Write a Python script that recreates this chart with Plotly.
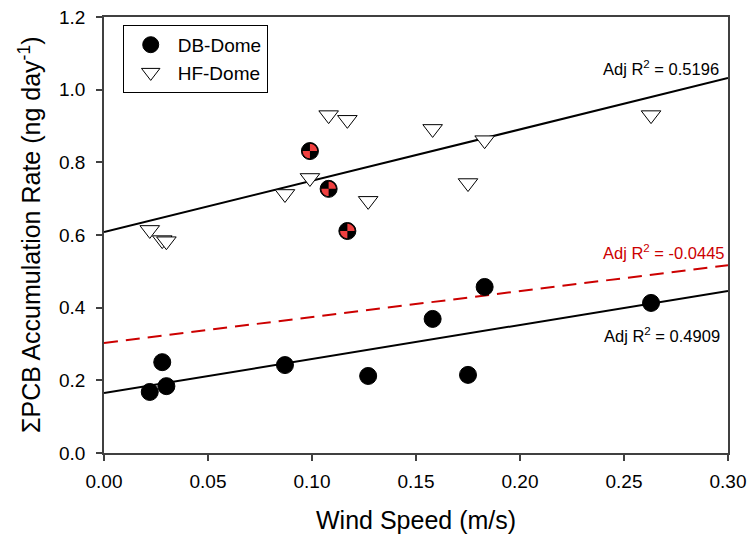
import numpy as np
import plotly.graph_objects as go

# --- data ---
db_wind = [0.022, 0.028, 0.030, 0.087, 0.127, 0.158, 0.175, 0.183, 0.263]
db_rate = [0.168, 0.250, 0.184, 0.242, 0.212, 0.369, 0.215, 0.457, 0.413]

hf_wind = [0.022, 0.028, 0.030, 0.087, 0.099, 0.108, 0.117, 0.127, 0.158, 0.175, 0.183, 0.263]
hf_rate = [0.614, 0.586, 0.583, 0.713, 0.757, 0.930, 0.917, 0.694, 0.892, 0.743, 0.861, 0.930]

sp_wind = [0.099, 0.108, 0.117]
sp_rate = [0.831, 0.727, 0.611]

# regression lines: [intercept, slope]
fit_hf = [0.608, 1.413]
fit_db = [0.165, 0.937]
fit_sp = [0.303, 0.713]

r2_labels = ["Adj R<sup>2</sup> = 0.5196", "Adj R<sup>2</sup> = -0.0445", "Adj R<sup>2</sup> = 0.4909"]
x_ticks = [0.00, 0.05, 0.10, 0.15, 0.20, 0.25, 0.30]
y_ticks = [0.0, 0.2, 0.4, 0.6, 0.8, 1.0, 1.2]
x_title = "Wind Speed (m/s)"
y_title = "ΣPCB Accumulation Rate (ng day<sup>-1</sup>)"

FONT = "Liberation Sans, Arial, sans-serif"
xl = np.array([0.0, 0.30])

fig = go.Figure()
fig.add_trace(go.Scatter(x=xl, y=fit_hf[0] + fit_hf[1] * xl, mode="lines",
                         line=dict(color="black", width=2), showlegend=False, hoverinfo="skip"))
fig.add_trace(go.Scatter(x=xl, y=fit_db[0] + fit_db[1] * xl, mode="lines",
                         line=dict(color="black", width=2), showlegend=False, hoverinfo="skip"))
fig.add_trace(go.Scatter(x=xl, y=fit_sp[0] + fit_sp[1] * xl, mode="lines",
                         line=dict(color="#cc0000", width=2, dash="14px,8px"), showlegend=False, hoverinfo="skip"))

fig.add_trace(go.Scatter(x=db_wind, y=db_rate, mode="markers", name="DB-Dome",
                         marker=dict(symbol="circle", size=17, color="black",
                                     line=dict(color="black", width=1))))
fig.add_trace(go.Scatter(x=hf_wind, y=hf_rate, mode="markers", name="HF-Dome",
                         marker=dict(symbol="triangle-down", size=17, color="white",
                                     line=dict(color="black", width=1))))
fig.add_trace(go.Scatter(x=sp_wind, y=sp_rate, mode="markers", showlegend=False,
                         marker=dict(symbol="circle", size=17, color="black",
                                     line=dict(color="black", width=1))))

# red quadrants (top-right and bottom-left) on the special markers
r = 7.2
def wedge(a0, a1):
    t = np.linspace(np.radians(a0), np.radians(a1), 16)
    pts = ["M 0,0"] + [f"L {r*np.cos(a):.3f},{r*np.sin(a):.3f}" for a in t] + ["Z"]
    return " ".join(pts)

for xv, yv in zip(sp_wind, sp_rate):
    for a0, a1 in [(0, 90), (180, 270)]:
        fig.add_shape(type="path", xref="x", yref="y", xsizemode="pixel", ysizemode="pixel",
                      xanchor=xv, yanchor=yv, path=wedge(a0, a1),
                      fillcolor="#f04040", line=dict(width=0), layer="above")

ann_pos = [(0.2680, 1.060, "black"), (0.2690, 0.553, "#cc0000"), (0.2685, 0.325, "black")]
for (xa, ya, c), txt in zip(ann_pos, r2_labels):
    fig.add_annotation(x=xa, y=ya, text=txt, showarrow=False,
                       font=dict(family=FONT, size=16.5, color=c))

# axis titles
fig.add_annotation(text=x_title, xref="paper", yref="paper", x=0.5, y=-0.1537,
                   xanchor="center", yanchor="middle", showarrow=False,
                   font=dict(family=FONT, size=25, color="black"))
fig.add_annotation(text=y_title, xref="paper", yref="paper", x=-0.1186, y=0.5,
                   xanchor="center", yanchor="middle", textangle=-90, showarrow=False,
                   font=dict(family=FONT, size=25, color="black"))

axis_common = dict(showline=True, linecolor="#404040", linewidth=1.5, mirror=True,
                   ticks="outside", ticklen=6, tickcolor="#404040", tickwidth=1.5,
                   showgrid=False, zeroline=False, automargin=False,
                   tickfont=dict(family=FONT, size=19, color="black"))

fig.update_layout(
    width=753, height=536,
    margin=dict(l=104, r=25, t=17, b=83),
    paper_bgcolor="white", plot_bgcolor="white",
    xaxis=dict(range=[0, 0.30], tickvals=x_ticks, tickformat=".2f", ticklabelstandoff=4,
               **axis_common),
    yaxis=dict(range=[0, 1.2], tickvals=y_ticks, tickformat=".1f", ticklabelstandoff=7,
               **axis_common),
    legend=dict(x=0.03, y=0.982, xanchor="left", yanchor="top",
                bordercolor="black", borderwidth=1, bgcolor="white",
                font=dict(family=FONT, size=19, color="black"),
                itemwidth=44, tracegroupgap=0),
)

fig.write_html("out.html", config={"displayModeBar": False},
               post_script="document.body.style.margin='0';document.body.style.overflow='hidden';")
